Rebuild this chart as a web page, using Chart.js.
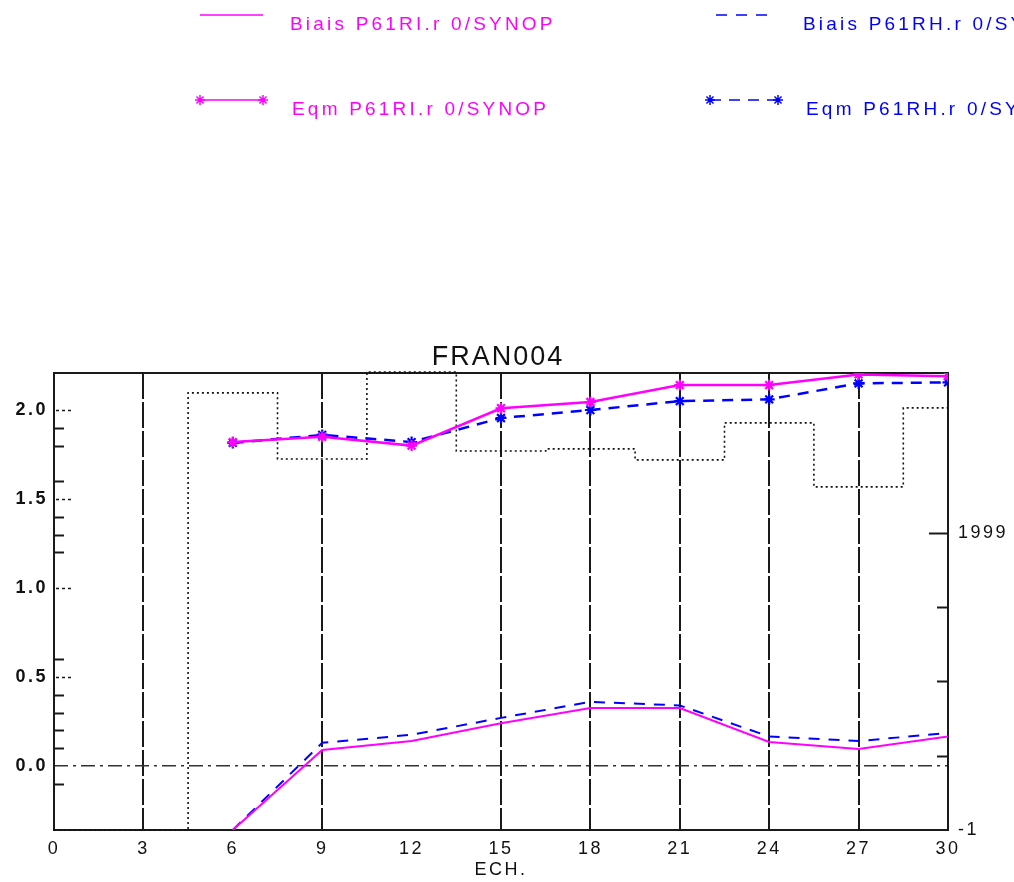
<!DOCTYPE html>
<html><head><meta charset="utf-8">
<script src="https://cdn.jsdelivr.net/npm/chart.js@4/dist/chart.umd.min.js"></script>
<style>html,body{margin:0;padding:0;background:#fff;}canvas{display:block;}</style>
</head><body>
<canvas id="c" width="1014" height="882"></canvas>
<script>
// ---- data ----
const chartTitle = 'FRAN004';
const xTitle = 'ECH.';
const xTicks = [0,3,6,9,12,15,18,21,24,27,30];
const xGridHours = [3,9,15,18,21,24,27];
const leftTickLabels = [0,0.5,1.0,1.5,2.0];
const leftMinorTicks = [-0.1,0.1,0.2,0.3,0.4,0.6,1.2,1.3,1.4,1.6,1.8,1.9];
const rightTickLabels = [-1,1999];
const rightMinorTicks = [499,999,1499];
const seriesNames = ['Biais P61RI.r 0/SYNOP','Biais P61RH.r 0/SYNOP','Eqm P61RI.r 0/SYNOP','Eqm P61RH.r 0/SYNOP'];
const echHours = [6,9,12,15,18,21,24,27,30];
const biaisRI = [-0.36,0.09,0.14,0.24,0.325,0.325,0.135,0.095,0.165];
const biaisRH = [-0.36,0.13,0.175,0.27,0.36,0.34,0.165,0.14,0.185];
const eqmRI   = [1.82,1.85,1.80,2.01,2.045,2.14,2.14,2.20,2.19];
const eqmRH   = [1.815,1.86,1.82,1.955,2.00,2.05,2.06,2.15,2.155];
const countHours = [0,3,6,9,12,15,18,21,24,27,30];
const counts = [-1,-1,2942,2497,3083,2551,2565,2491,2740,2309,2841];

const MAG = '#ff00ff', BLUE = '#0000ff', INK = '#1a1a1a';
const FONT = 'Liberation Sans, Arial, Helvetica, sans-serif';
Chart.defaults.font.family = FONT;

const pts = (xs, ys) => xs.map((x, i) => ({x, y: ys[i]}));

const decor = {
  id: 'decor',
  beforeDraw(chart) { chart.ctx.letterSpacing = '2.5px'; },
  beforeDatasetsDraw(chart) {
    const {ctx, chartArea: a} = chart;
    const y = chart.scales.y, y2 = chart.scales.y2;
    ctx.save();
    ctx.letterSpacing = '0px';
    ctx.strokeStyle = INK;
    ctx.lineWidth = 2;
    ctx.setLineDash([]);
    ctx.strokeRect(a.left, a.top, a.right - a.left, a.bottom - a.top);
    leftMinorTicks.forEach(v => {
      const p = Math.round(y.getPixelForValue(v)) + 0.5;
      ctx.beginPath(); ctx.moveTo(a.left, p); ctx.lineTo(a.left + 10, p); ctx.stroke();
    });
    ctx.lineWidth = 1.5; ctx.setLineDash([3, 3]);
    leftTickLabels.forEach(v => {
      if (v === 0) return;
      const p = Math.round(y.getPixelForValue(v)) + 0.5;
      ctx.beginPath(); ctx.moveTo(a.left + 2, p); ctx.lineTo(a.left + 19, p); ctx.stroke();
    });
    ctx.setLineDash([]); ctx.lineWidth = 2;
    rightMinorTicks.forEach(v => {
      const p = Math.round(y2.getPixelForValue(v)) + 0.5;
      ctx.beginPath(); ctx.moveTo(a.right - 11, p); ctx.lineTo(a.right, p); ctx.stroke();
    });
    rightTickLabels.forEach(v => {
      if (v === -1) return;
      const p = Math.round(y2.getPixelForValue(v)) + 0.5;
      ctx.beginPath(); ctx.moveTo(a.right - 19, p); ctx.lineTo(a.right, p); ctx.stroke();
    });
    ctx.restore();
  },
  afterDraw(chart) {
    const {ctx} = chart;
    ctx.save();
    ctx.fillStyle = '#111';
    ctx.font = '27px ' + FONT;
    ctx.letterSpacing = '2px';
    ctx.textAlign = 'center'; ctx.textBaseline = 'middle';
    ctx.fillText(chartTitle, 498, 358);
    const L = [
      {i: 0, x0: 200, x1: 263, ly: 15, tx: 290, ty: 25, marks: false},
      {i: 1, x0: 716, x1: 769, ly: 15, tx: 803, ty: 25, marks: false},
      {i: 2, x0: 200, x1: 263, ly: 100, tx: 292, ty: 110, marks: true},
      {i: 3, x0: 710, x1: 778, ly: 100, tx: 806, ty: 110, marks: true}
    ];
    L.forEach(e => {
      const ds = chart.data.datasets[e.i];
      ctx.strokeStyle = ds.borderColor;
      ctx.lineWidth = 1.5;
      ctx.setLineDash(ds.borderDash || []);
      ctx.beginPath(); ctx.moveTo(e.x0, e.ly); ctx.lineTo(e.x1, e.ly); ctx.stroke();
      ctx.setLineDash([]);
      if (e.marks) {
        [e.x0, e.x1].forEach(px => {
          ctx.lineWidth = 1.5;
          Chart.helpers.drawPoint(ctx, {pointStyle: 'star', radius: 5, rotation: 0, borderWidth: 1.5}, px, e.ly);
        });
      }
      ctx.fillStyle = ds.borderColor;
      ctx.font = '19px ' + FONT;
      ctx.letterSpacing = '3.2px';
      ctx.textAlign = 'left'; ctx.textBaseline = 'middle';
      ctx.fillText(ds.label, e.tx, e.ty);
    });
    ctx.restore();
  }
};

const tickFont = {size: 18, family: FONT};

new Chart(document.getElementById('c'), {
  type: 'line',
  data: {
    datasets: [
      {label: seriesNames[0], data: pts(echHours, biaisRI), borderColor: MAG, backgroundColor: MAG,
       borderWidth: 2, pointRadius: 0, yAxisID: 'y', xAxisID: 'x'},
      {label: seriesNames[1], data: pts(echHours, biaisRH), borderColor: BLUE, backgroundColor: BLUE,
       borderWidth: 2, borderDash: [11, 9], pointRadius: 0, yAxisID: 'y', xAxisID: 'x'},
      {label: seriesNames[2], data: pts(echHours, eqmRI), borderColor: MAG, backgroundColor: MAG,
       borderWidth: 2.5, pointStyle: 'star', pointRadius: 5.5, pointBorderWidth: 2.2,
       pointBorderColor: MAG, yAxisID: 'y', xAxisID: 'x'},
      {label: seriesNames[3], data: pts(echHours, eqmRH), borderColor: BLUE, backgroundColor: BLUE,
       borderWidth: 2.5, borderDash: [11, 8], pointStyle: 'star', pointRadius: 5.5, pointBorderWidth: 2.2,
       pointBorderColor: BLUE, yAxisID: 'y', xAxisID: 'x'},
      {label: 'count', data: pts(countHours, counts), borderColor: '#111', borderWidth: 1.6,
       borderDash: [2, 3], stepped: 'middle', pointRadius: 0, yAxisID: 'y2', xAxisID: 'x',
       clip: {left: 0, top: 3, right: 0, bottom: 3}}
    ]
  },
  options: {
    responsive: false,
    devicePixelRatio: 1,
    animation: false,
    events: [],
    layout: {padding: {top: 373, left: 0, right: 0, bottom: 0}},
    plugins: {legend: {display: false}, tooltip: {enabled: false}, title: {display: false}},
    scales: {
      x: {
        type: 'linear', position: 'bottom', min: 0, max: 30,
        afterBuildTicks: s => { s.ticks = xTicks.map(v => ({value: v})); },
        afterFit: s => { s.height = 52; },
        ticks: {font: tickFont, color: '#111', padding: 8, maxRotation: 0, autoSkip: false,
                callback: v => String(v)},
        grid: {drawTicks: false, drawOnChartArea: true, lineWidth: 2,
               color: c => (c.tick && xGridHours.includes(c.tick.value)) ? INK : 'rgba(0,0,0,0)'},
        border: {display: false, dash: [26, 3]},
        title: {display: true, text: xTitle, font: {size: 18, family: FONT}, color: '#111',
                padding: {top: 0, bottom: 1}}
      },
      y: {
        type: 'linear', position: 'left', min: -0.36, max: 2.208,
        afterBuildTicks: s => { s.ticks = leftTickLabels.map(v => ({value: v})); },
        afterFit: s => { s.width = 54; },
        ticks: {font: {size: 18, family: FONT, weight: 'bold'}, color: '#111', padding: 6,
                callback: v => Number(v).toFixed(1)},
        grid: {drawTicks: false, lineWidth: 1.5,
               color: c => (c.tick && c.tick.value === 0) ? '#333' : 'rgba(0,0,0,0)'},
        border: {display: false, dash: [14, 5, 3, 5]}
      },
      y2: {
        type: 'linear', position: 'right', min: -1, max: 3076,
        afterBuildTicks: s => { s.ticks = rightTickLabels.map(v => ({value: v})); },
        afterFit: s => { s.width = 66; },
        ticks: {font: tickFont, color: '#111', padding: 2, callback: v => String(v)},
        grid: {display: false, drawOnChartArea: false},
        border: {display: false}
      }
    }
  },
  plugins: [decor]
});
</script>
</body></html>
